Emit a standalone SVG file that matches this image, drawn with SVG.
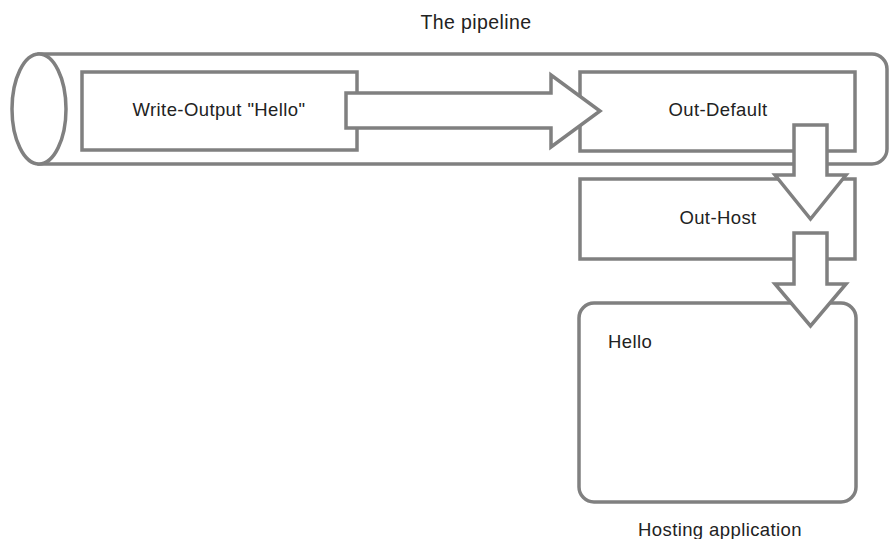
<svg xmlns="http://www.w3.org/2000/svg" width="889" height="539" viewBox="0 0 889 539">
<style>
.s{fill:#fff;stroke:#808080;stroke-width:3.5;stroke-linejoin:miter}
.t{font-family:"Liberation Sans",Arial,sans-serif;font-size:18.5px;letter-spacing:0.4px;fill:#222}
.c{text-anchor:middle}
</style>
<rect width="889" height="539" fill="#fff"/>
<g id="pipeline">
<path class="s" d="M39,54 H872 A15,15 0 0 1 887,69 V149 A15,15 0 0 1 872,164 H39 Z"/>
<ellipse class="s" cx="39" cy="109" rx="27" ry="55"/>
<text class="t c" x="476" y="29" style="font-size:19.5px">The pipeline</text>
</g>
<g id="write-output">
<rect class="s" x="82" y="72" width="275" height="78"/>
<text class="t c" x="219" y="116">Write-Output "Hello"</text>
</g>
<g id="out-default">
<rect class="s" x="580" y="72" width="275" height="79"/>
<text class="t c" x="718" y="116">Out-Default</text>
</g>
<g id="out-host">
<rect class="s" x="580" y="179" width="275" height="80"/>
<text class="t c" x="718" y="224">Out-Host</text>
</g>
<g id="hosting-application">
<rect class="s" x="579" y="303" width="277" height="199" rx="15" ry="15"/>
<text class="t" x="608" y="348">Hello</text>
<text class="t c" x="720" y="536">Hosting application</text>
</g>
<g id="connectors">
<polygon class="s" points="346,93 551,93 551,75 600,111 551,147 551,128 346,128"/>
<polygon class="s" points="794,125 827,125 827,175 846,175 810.5,219 775,175 794,175"/>
<polygon class="s" points="794,233 827,233 827,284 846,284 810.5,326 775,284 794,284"/>
</g>
</svg>
